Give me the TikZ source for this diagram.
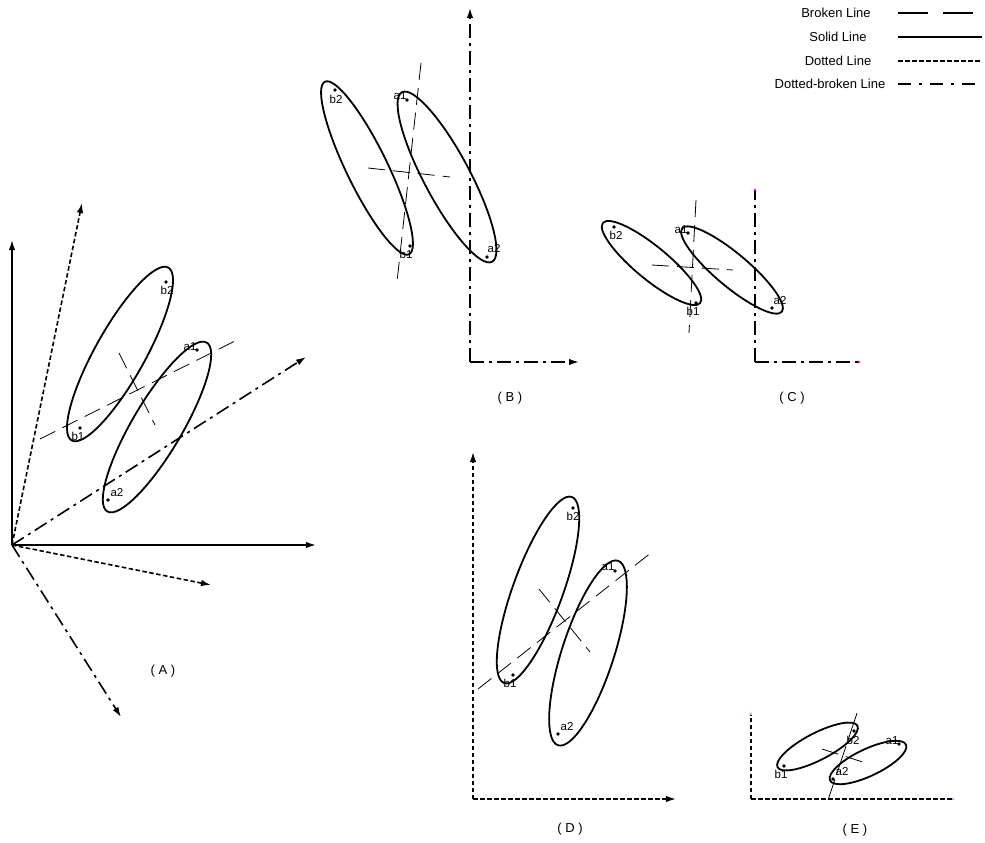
\documentclass[tikz,border=0pt]{standalone}
\usepackage{fontspec}
\setmainfont{Liberation Sans}
\usetikzlibrary{shapes.geometric, arrows.meta}

\begin{document}
\begin{tikzpicture}[x=1pt, y=-1pt, >={Latex[length=10pt, width=6.5pt]},
  font=\fontsize{13}{15}\selectfont,
  oval/.style={draw, ellipse, line width=1.8pt, inner sep=0pt},
  pnt/.style={circle, fill, inner sep=0pt, minimum size=3.6pt},
  ptlbl/.style={font=\fontsize{11.5}{13}\selectfont, inner sep=0pt},
  axis/.style={line width=1.6pt},
  dotax/.style={axis, dash pattern=on 4.5pt off 2.5pt},
  ddax/.style={axis, dash pattern=on 14pt off 5pt on 3pt off 5pt},
  brk/.style={line width=0.8pt, dash pattern=on 17pt off 8pt}]
  \useasboundingbox (0,0) rectangle (985,843);

  % legend
  \node (lg1) at (836,13) {Broken Line};
  \node (lg2) at (838,37) {Solid Line};
  \node (lg3) at (838,61) {Dotted Line};
  \node (lg4) at (830,84) {Dotted-broken Line};
  \coordinate (lg1a) at (898,13);  \coordinate (lg1b) at (982,13);
  \coordinate (lg2a) at (898,37);  \coordinate (lg2b) at (982,37);
  \coordinate (lg3a) at (898,61);  \coordinate (lg3b) at (982,61);
  \coordinate (lg4a) at (898,84);  \coordinate (lg4b) at (982,84);
  \draw[axis, dash pattern=on 30pt off 15pt] (lg1a) -- (lg1b);
  \draw[axis] (lg2a) -- (lg2b);
  \draw[dotax] (lg3a) -- (lg3b);
  \draw[axis, dash pattern=on 13pt off 8pt on 3pt off 8pt] (lg4a) -- (lg4b);

  % (A)
  \coordinate (oA) at (12,545);
  \coordinate (Ay) at (12,240);
  \coordinate (Ax) at (316,545);
  \coordinate (Ap) at (82,203);
  \coordinate (Aq) at (211,585);
  \coordinate (Ar) at (306,357);
  \coordinate (As) at (121,717);
  \draw[axis, ->] (oA) -- (Ay);
  \draw[axis, ->] (oA) -- (Ax);
  \draw[dotax, ->] (oA) -- (Ap);
  \draw[dotax, ->] (oA) -- (Aq);
  \draw[ddax, ->] (oA) -- (Ar);
  \draw[ddax, ->] (oA) -- (As);
  \node[oval, minimum width=198pt, minimum height=50pt, rotate=60.8] (Ab) at (120,354) {};
  \node[oval, minimum width=196pt, minimum height=50pt, rotate=59.5] (Aa) at (157,427) {};
  \node[pnt] (Ab2) at (166,282) {};
  \node[pnt] (Ab1) at (80,428) {};
  \node[pnt] (Aa1) at (197,350) {};
  \node[pnt] (Aa2) at (108,500) {};
  \node[ptlbl] (Ab2t) at (167,290) {b2};
  \node[ptlbl] (Ab1t) at (78,436) {b1};
  \node[ptlbl] (Aa1t) at (190,347) {a1};
  \node[ptlbl] (Aa2t) at (117,493) {a2};
  \coordinate (Am1) at (40,439);  \coordinate (Am2) at (237,340);
  \coordinate (An1) at (119,353); \coordinate (An2) at (155,425);
  \draw[brk] (Am1) -- (Am2);
  \draw[brk] (An1) -- (An2);
  \node (lA) at (163,671) {( A )};

  % (B)
  \coordinate (oB) at (470,362);
  \coordinate (By) at (470,8);
  \coordinate (Bx) at (579,362);
  \draw[ddax, ->] (oB) -- (By);
  \draw[ddax, ->] (oB) -- (Bx);
  \node[oval, minimum width=192pt, minimum height=41pt, rotate=116] (Bb) at (367,168) {};
  \node[oval, minimum width=192pt, minimum height=46pt, rotate=118] (Ba) at (447,177) {};
  \node[pnt] (Bb2) at (335,90) {};
  \node[pnt] (Ba1) at (407,100) {};
  \node[pnt] (Bb1) at (410,246) {};
  \node[pnt] (Ba2) at (487,257) {};
  \node[ptlbl] (Bb2t) at (336,99) {b2};
  \node[ptlbl] (Ba1t) at (400,96) {a1};
  \node[ptlbl] (Bb1t) at (406,254) {b1};
  \node[ptlbl] (Ba2t) at (494,249) {a2};
  \coordinate (Bm1) at (421,63);  \coordinate (Bm2) at (397,282);
  \coordinate (Bn1) at (368,168); \coordinate (Bn2) at (450,177);
  \draw[brk] (Bm1) -- (Bm2);
  \draw[brk] (Bn1) -- (Bn2);
  \node (lB) at (510,398) {( B )};

  % (C)
  \coordinate (oC) at (755,362);
  \coordinate (Cy) at (755,188);
  \coordinate (Cx) at (861,362);
  \draw[ddax, -{Latex[length=3pt, width=3pt, color=magenta]}] (oC) -- (Cy);
  \draw[ddax, -{Latex[length=3pt, width=3pt, color=magenta]}] (oC) -- (Cx);
  \node[oval, minimum width=126pt, minimum height=33pt, rotate=-39.5] (Cb) at (651.5,263) {};
  \node[oval, minimum width=130pt, minimum height=33pt, rotate=-40] (Ca) at (732,270) {};
  \node[pnt] (Cb2) at (614,227) {};
  \node[pnt] (Ca1) at (688,233) {};
  \node[pnt] (Cb1) at (696,303) {};
  \node[pnt] (Ca2) at (772,308) {};
  \node[ptlbl] (Cb2t) at (616,235) {b2};
  \node[ptlbl] (Ca1t) at (681,230) {a1};
  \node[ptlbl] (Cb1t) at (693,311) {b1};
  \node[ptlbl] (Ca2t) at (780,301) {a2};
  \coordinate (Cm1) at (696,200); \coordinate (Cm2) at (689,333);
  \coordinate (Cn1) at (652,265); \coordinate (Cn2) at (733,270);
  \draw[brk] (Cm1) -- (Cm2);
  \draw[brk] (Cn1) -- (Cn2);
  \node (lC) at (792,398) {( C )};

  % (D)
  \coordinate (oD) at (473,799);
  \coordinate (Dy) at (473,452);
  \coordinate (Dx) at (676,799);
  \draw[dotax, ->] (oD) -- (Dy);
  \draw[dotax, ->] (oD) -- (Dx);
  \node[oval, minimum width=198pt, minimum height=50pt, rotate=70] (Db) at (538,590) {};
  \node[oval, minimum width=194pt, minimum height=52pt, rotate=72] (Da) at (588,653) {};
  \node[pnt] (Db2) at (573,508) {};
  \node[pnt] (Da1) at (615,571) {};
  \node[pnt] (Db1) at (513,675) {};
  \node[pnt] (Da2) at (558,734) {};
  \node[ptlbl] (Db2t) at (573,516) {b2};
  \node[ptlbl] (Da1t) at (608,567) {a1};
  \node[ptlbl] (Db1t) at (510,683) {b1};
  \node[ptlbl] (Da2t) at (567,727) {a2};
  \coordinate (Dm1) at (478,689); \coordinate (Dm2) at (652,552);
  \coordinate (Dn1) at (539,589); \coordinate (Dn2) at (590,652);
  \draw[brk] (Dm1) -- (Dm2);
  \draw[brk] (Dn1) -- (Dn2);
  \node (lD) at (570,829) {( D )};

  % (E)
  \coordinate (oE) at (751,799);
  \coordinate (Ey) at (751,712);
  \coordinate (Ex) at (955,799);
  \draw[dotax, -{Latex[length=3pt, width=3pt, color=blue!30]}] (oE) -- (Ey);
  \draw[dotax, -{Latex[length=3pt, width=3pt, color=blue!30]}] (oE) -- (Ex);
  \node[oval, minimum width=90pt, minimum height=27pt, rotate=27.4] (Eb) at (817.5,746.5) {};
  \node[oval, minimum width=84pt, minimum height=27pt, rotate=25.3] (Ea) at (868,762.5) {};
  \node[pnt] (Eb2) at (854,731) {};
  \node[pnt] (Ea1) at (899,744) {};
  \node[pnt] (Eb1) at (784,766) {};
  \node[pnt] (Ea2) at (833,779) {};
  \node[ptlbl] (Eb2t) at (853,740) {b2};
  \node[ptlbl] (Ea1t) at (892,741) {a1};
  \node[ptlbl] (Eb1t) at (781,774) {b1};
  \node[ptlbl] (Ea2t) at (842,772) {a2};
  \coordinate (Em1) at (857,713); \coordinate (Em2) at (828,800);
  \coordinate (En1) at (822,749); \coordinate (En2) at (869,764);
  \draw[line width=0.8pt, dash pattern=on 30pt off 5pt] (Em1) -- (Em2);
  \draw[brk] (En1) -- (En2);
  \node (lE) at (855,830) {( E )};
\end{tikzpicture}
\end{document}
